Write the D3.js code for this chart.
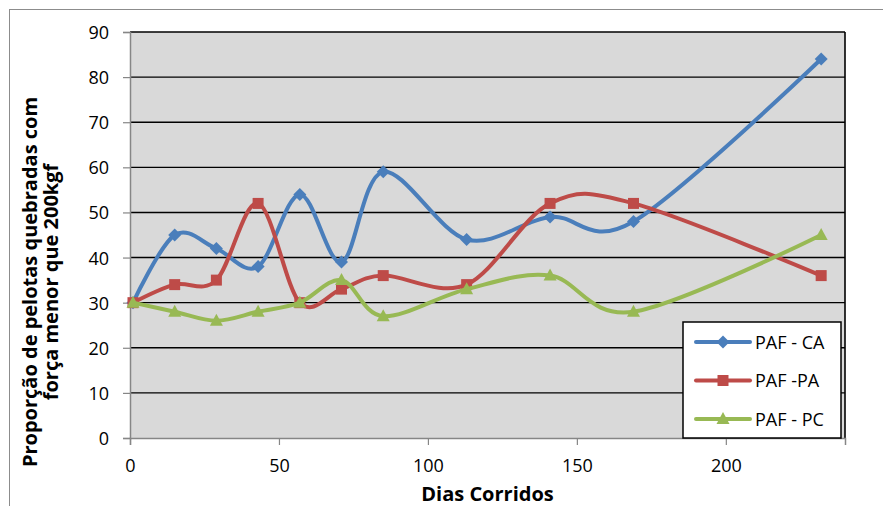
<!DOCTYPE html>
<html>
<head>
<meta charset="utf-8">
<script src="https://cdn.jsdelivr.net/npm/d3@7"></script>
<style>
  body { margin: 0; background: #fff; }
  svg { display: block; font-family: "Open Sans", sans-serif; }
</style>
</head>
<body>
<script>
var dias = [1, 15, 29, 43, 57, 71, 85, 113, 141, 169, 232];
var pafCA = [30, 45, 42, 38, 54, 39, 59, 44, 49, 48, 84];
var pafPA = [30, 34, 35, 52, 30, 33, 36, 34, 52, 52, 36];
var pafPC = [30, 28, 26, 28, 30, 35, 27, 33, 36, 28, 45];
var seriesNames = ["PAF - CA", "PAF -PA", "PAF - PC"];
var xTicks = [0, 50, 100, 150, 200];
var yTicks = [0, 10, 20, 30, 40, 50, 60, 70, 80, 90];

var width = 883, height = 506;
var margin = {left: 130, right: 38, top: 32, bottom: 68};
var colors = ["#4a7ebb", "#be4b48", "#98b954"];

// excel-ish markers: diamond is a square turned 45 degrees
function marker(i) {
  if (i == 0) return "M0,-6.5L6.5,0L0,6.5L-6.5,0Z";
  if (i == 1) return "M-5.5,-5.5H5.5V5.5H-5.5Z";
  return "M0,-7L6.5,5H-6.5Z";
}

var svg = d3.select("body").append("svg")
    .attr("width", width)
    .attr("height", height);

// chart area border
svg.append("rect")
    .attr("x", 9.5).attr("y", 9.5)
    .attr("width", 900).attr("height", 600)
    .attr("fill", "#fff")
    .attr("stroke", "#8c8c8c");

var x = d3.scaleLinear().domain([0, 240]).range([margin.left, width - margin.right]);
var y = d3.scaleLinear().domain([0, 90]).range([height - margin.bottom, margin.top]);

svg.append("rect")
    .attr("x", x(0)).attr("y", y(90))
    .attr("width", x(240) - x(0)).attr("height", y(0) - y(90))
    .attr("fill", "#d9d9d9");

// gridlines
svg.append("g").selectAll("line")
    .data(yTicks.filter(function(d) { return d > 0; }))
  .enter().append("line")
    .attr("x1", x(0)).attr("x2", x(240))
    .attr("y1", function(d) { return y(d); })
    .attr("y2", function(d) { return y(d); })
    .attr("stroke", "#000")
    .attr("stroke-width", 1.4);

// right border of plot
svg.append("line")
    .attr("x1", x(240)).attr("x2", x(240))
    .attr("y1", y(90)).attr("y2", y(0))
    .attr("stroke", "#000")
    .attr("stroke-width", 1.6);

var yAxis = svg.append("g")
    .attr("transform", "translate(" + x(0) + ",0)")
    .call(d3.axisLeft(y).tickValues(yTicks).tickSize(7).tickPadding(14));

var xAxis = svg.append("g")
    .attr("transform", "translate(0," + y(0) + ")")
    .call(d3.axisBottom(x).tickValues(xTicks).tickSize(7).tickPadding(14));

[xAxis, yAxis].forEach(function(a) {
  a.select(".domain").attr("stroke", "#868686").attr("stroke-width", 1.5);
  a.selectAll(".tick line").attr("stroke", "#868686").attr("stroke-width", 1.2);
  a.selectAll("text").attr("fill", "#000").style("font-size", "18px")
    .style("font-family", "'Open Sans', sans-serif");
});
yAxis.selectAll("text").attr("dy", "0.36em");

var allSeries = [pafCA, pafPA, pafPC];

var line = d3.line()
    .x(function(d) { return x(d[0]); })
    .y(function(d) { return y(d[1]); })
    .curve(d3.curveCatmullRom.alpha(0));

allSeries.forEach(function(vals, i) {
  var pts = dias.map(function(d, j) { return [d, vals[j]]; });
  svg.append("path")
      .datum(pts)
      .attr("d", line)
      .attr("fill", "none")
      .attr("stroke", colors[i])
      .attr("stroke-width", 4)
      .attr("stroke-linejoin", "round");
  svg.append("g").selectAll("path")
      .data(pts)
    .enter().append("path")
      .attr("transform", function(d) { return "translate(" + x(d[0]) + "," + y(d[1]) + ")"; })
      .attr("d", marker(i))
      .attr("fill", colors[i]);
});

// legend
var legend = svg.append("g").attr("transform", "translate(683,322)");
legend.append("rect")
    .attr("width", 158).attr("height", 116)
    .attr("fill", "#fff")
    .attr("stroke", "#000")
    .attr("stroke-width", 1.5);

seriesNames.forEach(function(name, i) {
  var ly = 20 + i * 38.5;
  legend.append("line")
      .attr("x1", 13).attr("x2", 67)
      .attr("y1", ly).attr("y2", ly)
      .attr("stroke", colors[i])
      .attr("stroke-width", 4)
      .attr("stroke-linecap", "round");
  legend.append("path")
      .attr("transform", "translate(40," + ly + ")")
      .attr("d", marker(i))
      .attr("fill", colors[i]);
  legend.append("text")
      .attr("x", 72).attr("y", ly + 6.5)
      .style("font-size", "18px")
      .text(name);
});

// axis titles
svg.append("text")
    .attr("x", (x(0) + x(240)) / 2)
    .attr("y", 501)
    .attr("text-anchor", "middle")
    .style("font-size", "20px")
    .style("font-weight", "bold")
    .text("Dias Corridos");

var yTitle = svg.append("text")
    .attr("transform", "translate(0,282) rotate(-90)")
    .attr("text-anchor", "middle")
    .style("font-size", "20px")
    .style("font-weight", "bold");
yTitle.append("tspan").attr("x", 0).attr("y", 37).text("Proporção de pelotas quebradas com");
yTitle.append("tspan").attr("x", 0).attr("y", 58).text("força menor que 200kgf");
</script>
</body>
</html>
